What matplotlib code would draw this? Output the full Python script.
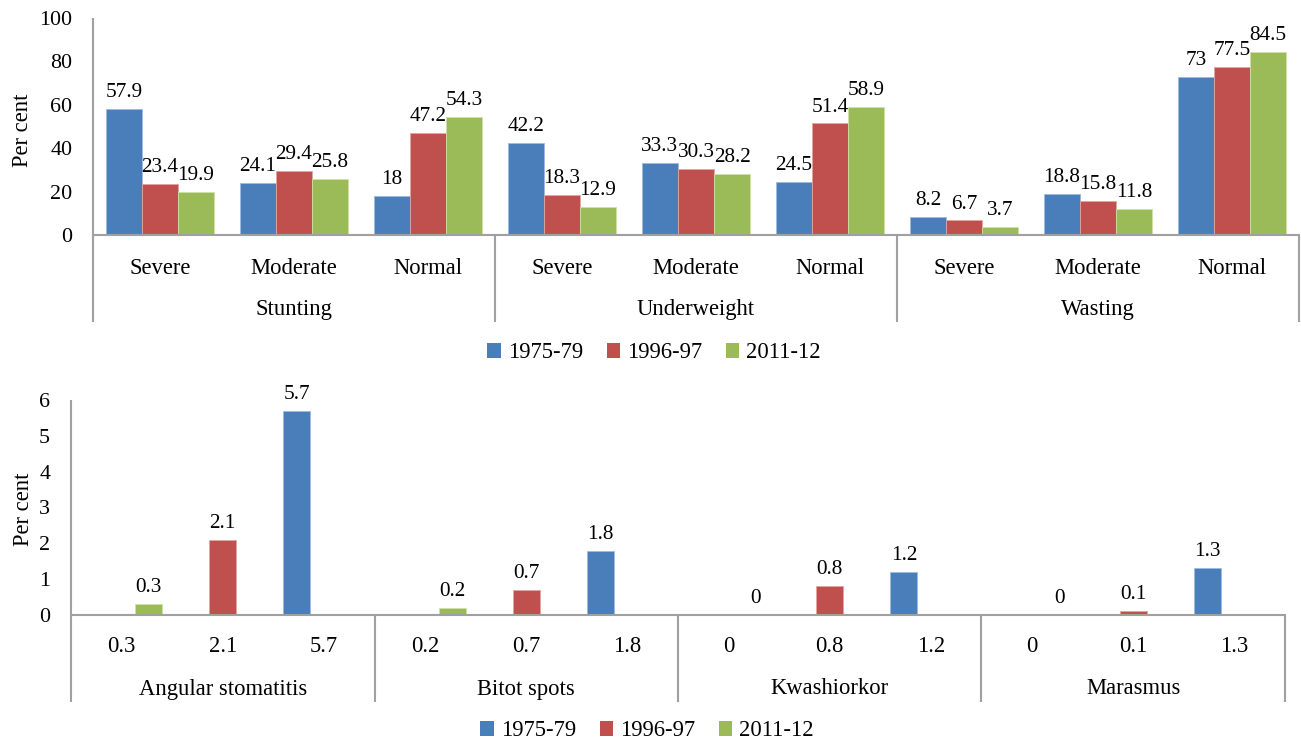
import numpy as np
import matplotlib
matplotlib.use("Agg")
import matplotlib.pyplot as plt
from matplotlib.transforms import blended_transform_factory
from matplotlib.patches import Patch

plt.rcParams["font.family"] = ["Liberation Serif", "DejaVu Serif"]

# ---------------- data ----------------
series = ["1975-79", "1996-97", "2011-12"]
colors = ["#4A7EBB", "#C0504D", "#9BBB59"]
edge_colors = ["#9DBBE0", "#E3A3A1", "#CFE0A8"]

anthro_groups = ["Stunting", "Underweight", "Wasting"]
anthro_levels = ["Severe", "Moderate", "Normal"]
# values per series, ordered group by group (Severe, Moderate, Normal)
anthro_1975 = [57.9, 24.1, 18, 42.2, 33.3, 24.5, 8.2, 18.8, 73]
anthro_1996 = [23.4, 29.4, 47.2, 18.3, 30.3, 51.4, 6.7, 15.8, 77.5]
anthro_2011 = [19.9, 25.8, 54.3, 12.9, 28.2, 58.9, 3.7, 11.8, 84.5]

clinical_groups = ["Angular stomatitis", "Bitot spots", "Kwashiorkor", "Marasmus"]
clinical_1975 = [5.7, 1.8, 1.2, 1.3]
clinical_1996 = [2.1, 0.7, 0.8, 0.1]
clinical_2011 = [0.3, 0.2, 0, 0]

AXIS_GRAY = "#A0A0A0"
W, H = 1301, 742
FS = 16.3


def fmt(v):
    return f"{v:g}"


def px_axes(left, right, top, bottom):
    """Axes rectangle from pixel edges (origin at top-left)."""
    return [left / W, 1 - bottom / H, (right - left) / W, (bottom - top) / H]


def style_axis(ax, n_cat, ymax, yticks, drop, group_names, per_group):
    ax.set_xlim(0, n_cat)
    ax.set_ylim(0, ymax)
    ax.set_yticks(yticks)
    ax.tick_params(axis="y", length=0, pad=15, labelsize=15.8)
    ax.set_xticks([])
    for s in ["top", "right", "left"]:
        ax.spines[s].set_visible(False)
    ax.spines["bottom"].set_color(AXIS_GRAY)
    ax.spines["bottom"].set_linewidth(1.5)
    trans = blended_transform_factory(ax.transData, ax.transAxes)
    # left axis line, extended below the category band
    ax.plot([0, 0], [-drop, 1], color=AXIS_GRAY, lw=1.5, transform=trans,
            clip_on=False, solid_capstyle="butt")
    # group separators
    for g in range(1, len(group_names) + 1):
        x = g * per_group
        ax.plot([x, x], [-drop, 0], color=AXIS_GRAY, lw=1.5, transform=trans,
                clip_on=False, solid_capstyle="butt")
    return trans


fig = plt.figure(figsize=(W / 100, H / 100), dpi=100)

# ---------------- top panel: anthropometry ----------------
ax1 = fig.add_axes(px_axes(93, 1299, 18, 235))
n1 = len(anthro_1975)
x1 = np.arange(n1) + 0.5
bw1 = 0.269
for i, vals in enumerate([anthro_1975, anthro_1996, anthro_2011]):
    xs = x1 + (i - 1) * bw1
    ax1.bar(xs, vals, width=bw1, color=colors[i],
            edgecolor=edge_colors[i], linewidth=0.6)
    for xb, v in zip(xs, vals):
        ax1.annotate(fmt(v), (xb, v), xytext=(0, 5), textcoords="offset points",
                     ha="center", va="bottom", fontsize=15.3)

tr1 = style_axis(ax1, n1, 100, np.arange(0, 101, 20), 0.40, anthro_groups, 3)
for g, gname in enumerate(anthro_groups):
    for k, lvl in enumerate(anthro_levels):
        ax1.text(g * 3 + k + 0.5, -33 / 217, lvl, transform=tr1, ha="center",
                 va="center", fontsize=FS)
    ax1.text(g * 3 + 1.5, -75 / 217, gname, transform=tr1, ha="center",
             va="center", fontsize=FS)
fig.text(23 / W, 1 - 130 / H, "Per cent", rotation=90, ha="center",
         va="center", fontsize=FS)

# ---------------- bottom panel: clinical signs ----------------
ax2 = fig.add_axes(px_axes(71, 1285, 400, 615))
n2 = 3 * len(clinical_groups)
bw2 = 0.267
# each condition shows its 2011-12, 1996-97 and 1975-79 values as categories
cat_vals = []
for a, b, c in zip(clinical_2011, clinical_1996, clinical_1975):
    cat_vals += [a, b, c]
series_slot = {0: 2, 1: 1, 2: 0}  # series index -> category slot in group
for i, vals in enumerate([clinical_1975, clinical_1996, clinical_2011]):
    slot = series_slot[i]
    xs = np.array([g * 3 + slot + 0.5 for g in range(len(vals))]) + (i - 1) * bw2
    ax2.bar(xs, vals, width=bw2, color=colors[i], edgecolor=edge_colors[i],
            linewidth=0.6)
    for xb, v in zip(xs, vals):
        ax2.annotate(fmt(v), (xb, v), xytext=(0, 5), textcoords="offset points",
                     ha="center", va="bottom", fontsize=15.3)

tr2 = style_axis(ax2, n2, 6, np.arange(0, 7, 1), 0.405, clinical_groups, 3)
for j, v in enumerate(cat_vals):
    ax2.text(j + 0.5, -32 / 215, fmt(v), transform=tr2, ha="center",
             va="center", fontsize=FS)
for g, gname in enumerate(clinical_groups):
    ax2.text(g * 3 + 1.5, -74 / 215, gname, transform=tr2, ha="center",
             va="center", fontsize=FS)
fig.text(24 / W, 1 - 509 / H, "Per cent", rotation=90, ha="center",
         va="center", fontsize=FS)

# ---------------- legends ----------------
handles = [Patch(facecolor=c, edgecolor="none") for c in colors]
leg_kw = dict(ncol=3, frameon=False, fontsize=FS, handlelength=0.6,
              handleheight=0.6, handletextpad=0.3, columnspacing=1.05,
              borderpad=0, borderaxespad=0)
fig.legend(handles, series, loc="center", bbox_to_anchor=(654 / W, 1 - 353 / H),
           **leg_kw)
fig.legend(handles, series, loc="center", bbox_to_anchor=(647 / W, 1 - 731 / H),
           **leg_kw)

fig.savefig("out.png", dpi=100)
